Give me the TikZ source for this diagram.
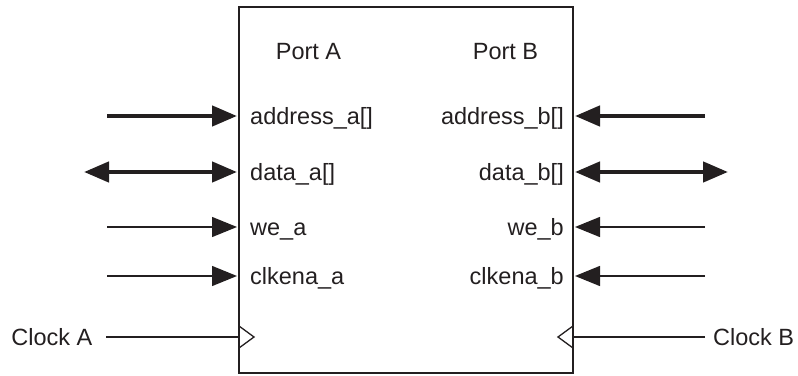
\documentclass[tikz,border=0pt]{standalone}
\usepackage{fontspec}
\setmainfont{Liberation Sans}
\usetikzlibrary{arrows.meta}
\definecolor{ink}{HTML}{231F20}

\begin{document}
\begin{tikzpicture}[x=1pt,y=1pt,
    bus/.style={line width=4.5pt,-{Triangle[length=25pt,width=20pt]}},
    bibus/.style={line width=4.5pt,{Triangle[length=25pt,width=20pt]}-{Triangle[length=25pt,width=20pt]}},
    sig/.style={line width=1.3pt,-{Triangle[length=25pt,width=20pt]}},
    clk/.style={line width=1.3pt},
    pin/.style={inner sep=0pt,text=ink,font=\fontsize{23.5}{28}\selectfont}]
  \useasboundingbox (0,0) rectangle (798,375);

  % memory block
  \node[draw=ink,line width=1.3pt,inner sep=0pt,minimum width=334pt,minimum height=366pt] (ram) at (406,185) {};
  \node[pin,anchor=base] (portA) at (308.5,315) {Port A};
  \node[pin,anchor=base] (portB) at (505.5,315) {Port B};

  % port A inputs
  \foreach \y/\sig/\sty/\x/\txt in {259/address/bus/107/{address\_a[]},
      203/data/bibus/84/{data\_a[]}, 148/we/sig/107/{we\_a}, 99/clkena/sig/107/{clkena\_a}} {
    \coordinate (\sig-a) at (237,\y);
    \coordinate (\sig-a-src) at (\x,\y);
    \draw[\sty,draw=ink,fill=ink] (\sig-a-src) -- (\sig-a);
    \node[pin,anchor=base west] (\sig-a-lbl) at (250,\y-8.5) {\txt};
  }

  % port B inputs
  \foreach \y/\sig/\sty/\x/\txt in {259/address/bus/705/{address\_b[]},
      203/data/bibus/728/{data\_b[]}, 148/we/sig/705/{we\_b}, 99/clkena/sig/705/{clkena\_b}} {
    \coordinate (\sig-b) at (575,\y);
    \coordinate (\sig-b-src) at (\x,\y);
    \draw[\sty,draw=ink,fill=ink] (\sig-b-src) -- (\sig-b);
    \node[pin,anchor=base east] (\sig-b-lbl) at (564,\y-8.5) {\txt};
  }

  % clocks
  \node[pin,anchor=base east] (clkA) at (92.5,29.5) {Clock A};
  \node[pin,anchor=base west] (clkB) at (713,29.5) {Clock B};
  \coordinate (clk-a-src) at (106,38);
  \coordinate (clk-a) at (239,38);
  \coordinate (clk-b-src) at (705,38);
  \coordinate (clk-b) at (573,38);
  \draw[clk,draw=ink] (clk-a-src) -- (clk-a);
  \draw[clk,draw=ink] (clk-b-src) -- (clk-b);
  \draw[clk,draw=ink] (239,49) -- (254,38) -- (239,27);
  \draw[clk,draw=ink] (573,49) -- (558,38) -- (573,27);
\end{tikzpicture}
\end{document}
